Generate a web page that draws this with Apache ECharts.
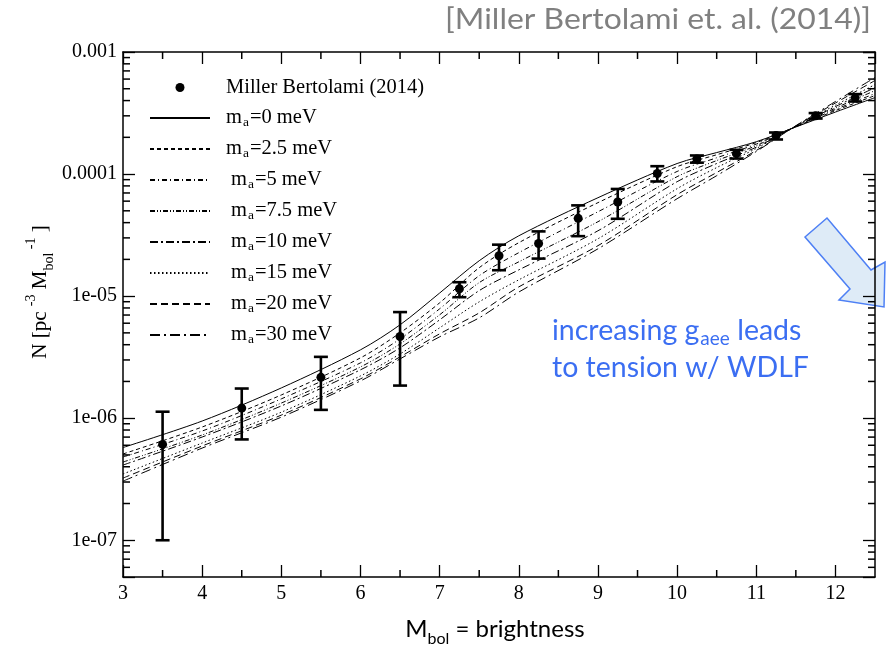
<!DOCTYPE html>
<html>
<head>
<meta charset="utf-8">
<script src="https://cdn.jsdelivr.net/npm/echarts@6/dist/echarts.min.js"></script>
<style>
  html, body { margin: 0; padding: 0; background: #fff; }
  #chart { width: 888px; height: 649px; }
</style>
</head>
<body>
<div id="chart"></div>
<script>
// model luminosity functions at these M_bol values
const curveX = [3, 4, 5, 6, 6.5, 7, 7.5, 8, 9, 10, 10.5, 11, 11.5, 12, 12.5];
const ma0  = [5.75e-7, 9.48e-7, 1.77e-6, 3.63e-6, 5.82e-6, 1.06e-5, 1.95e-5, 3.12e-5, 6.40e-5, 1.22e-4, 1.50e-4, 1.84e-4, 2.43e-4, 3.22e-4, 4.23e-4];
const ma25 = [5.09e-7, 8.47e-7, 1.55e-6, 3.12e-6, 5.00e-6, 8.81e-6, 1.71e-5, 2.74e-5, 5.83e-5, 1.15e-4, 1.44e-4, 1.81e-4, 2.44e-4, 3.31e-4, 4.40e-4];
const ma5  = [4.81e-7, 7.85e-7, 1.44e-6, 2.84e-6, 4.46e-6, 7.87e-6, 1.47e-5, 2.27e-5, 4.91e-5, 1.05e-4, 1.36e-4, 1.76e-4, 2.45e-4, 3.38e-4, 4.57e-4];
const ma75 = [4.37e-7, 7.28e-7, 1.33e-6, 2.63e-6, 4.06e-6, 7.03e-6, 1.29e-5, 1.91e-5, 4.07e-5, 9.52e-5, 1.29e-4, 1.71e-4, 2.45e-4, 3.47e-4, 4.83e-4];
const ma10 = [4.13e-7, 7.01e-7, 1.26e-6, 2.49e-6, 3.77e-6, 6.39e-6, 1.11e-5, 1.64e-5, 3.43e-5, 8.66e-5, 1.22e-4, 1.66e-4, 2.46e-4, 3.57e-4, 5.11e-4];
const ma15 = [3.49e-7, 6.26e-7, 1.12e-6, 2.22e-6, 3.36e-6, 5.50e-6, 8.98e-6, 1.36e-5, 2.95e-5, 7.59e-5, 1.13e-4, 1.62e-4, 2.47e-4, 3.67e-4, 5.41e-4];
const ma20 = [3.23e-7, 5.92e-7, 1.06e-6, 2.10e-6, 3.18e-6, 4.91e-6, 7.29e-6, 1.19e-5, 2.59e-5, 6.78e-5, 1.03e-4, 1.56e-4, 2.48e-4, 3.82e-4, 5.84e-4];
const ma30 = [3.05e-7, 5.69e-7, 1.02e-6, 2.02e-6, 3.06e-6, 4.64e-6, 6.64e-6, 1.08e-5, 2.44e-5, 6.28e-5, 9.70e-5, 1.53e-4, 2.49e-4, 3.93e-4, 6.18e-4];

const maLabels = ['0', '2.5', '5', '7.5', '10', '15', '20', '30'];
const maCurves = [ma0, ma25, ma5, ma75, ma10, ma15, ma20, ma30];
const maDash = ['solid', [4, 3], [5, 3, 1, 3], [5, 2, 1, 2, 1, 2], [8, 3, 2, 3], [1.5, 2.5], [7, 4], [10, 4, 2, 4]];

// Miller Bertolami (2014) data with error bars
const obsName = 'Miller Bertolami (2014)';
const obsX    = [3.5, 4.5, 5.5, 6.5, 7.25, 7.75, 8.25, 8.75, 9.25, 9.75, 10.25, 10.75, 11.25, 11.75, 12.25];
const obsN    = [6.1e-7, 1.21e-6, 2.16e-6, 4.67e-6, 1.15e-5, 2.14e-5, 2.70e-5, 4.34e-5, 5.9e-5, 1.01e-4, 1.33e-4, 1.47e-4, 2.07e-4, 3.0e-4, 4.21e-4];
const obsLow  = [1.0e-7, 6.7e-7, 1.17e-6, 1.85e-6, 9.8e-6, 1.63e-5, 2.03e-5, 3.1e-5, 4.3e-5, 8.7e-5, 1.24e-4, 1.34e-4, 1.92e-4, 2.85e-4, 3.93e-4];
const obsHigh = [1.13e-6, 1.75e-6, 3.18e-6, 7.4e-6, 1.30e-5, 2.64e-5, 3.39e-5, 5.54e-5, 7.55e-5, 1.16e-4, 1.42e-4, 1.58e-4, 2.19e-4, 3.16e-4, 4.52e-4];

// axis ticks
const yTickValues = [1e-7, 1e-6, 1e-5, 1e-4, 1e-3];
const yTickLabels = ['1e-07', '1e-06', '1e-05', '0.0001', '0.001'];
const xMinorTicks = [3.5, 4.5, 5.5, 6.5, 7.5, 8.5, 9.5, 10.5, 11.5];
const yMinorMant = [2, 3, 4, 5, 6, 7, 8, 9];

const xMin = 3, xMax = 12.5;
const yMin = 5e-8, yMax = 1e-3;
const serif = '"Liberation Serif", "Times New Roman", serif';
const sans = 'Lato, "Open Sans", sans-serif';

const yMinorTicks = [];
for (let e = -8; e <= -4; e++) {
  yMinorMant.forEach(function (k) {
    const v = k * Math.pow(10, e);
    if (v > yMin * 1.01 && v < yMax) yMinorTicks.push(v);
  });
}

const chart = echarts.init(document.getElementById('chart'));

function majorX(pos, labels) {
  return {
    type: 'value', position: pos, min: xMin, max: xMax, interval: 1,
    axisLine: { show: true, onZero: false, lineStyle: { color: '#000', width: 1.5 } },
    axisTick: { show: true, inside: true, length: 12, lineStyle: { color: '#000', width: 1.3 } },
    axisLabel: { show: labels, showMaxLabel: false, color: '#000', fontFamily: serif, fontSize: 20, margin: 7 },
    splitLine: { show: false }
  };
}
function majorY(pos, labels) {
  return {
    type: 'log', position: pos, min: yMin, max: yMax, logBase: 10,
    axisLine: { show: true, onZero: false, lineStyle: { color: '#000', width: 1.5 } },
    axisTick: { show: true, inside: true, length: 12, lineStyle: { color: '#000', width: 1.3 } },
    axisLabel: {
      show: labels, color: '#000', fontFamily: serif, fontSize: 20, margin: 6,
      formatter: function (v) {
        const lg = Math.log10(v);
        for (let i = 0; i < yTickValues.length; i++) {
          if (Math.abs(Math.log10(yTickValues[i]) - lg) < 1e-6) return yTickLabels[i];
        }
        return '';
      }
    },
    splitLine: { show: false }
  };
}

const lineSeries = maCurves.map(function (arr, i) {
  return {
    name: 'ma=' + maLabels[i] + ' meV',
    type: 'line',
    data: curveX.map(function (x, j) { return [x, arr[j]]; }),
    symbol: 'none', showSymbol: false,
    smooth: 0.3,
    itemStyle: { color: 'rgba(0,0,0,0)', opacity: 0 },
    lineStyle: { color: '#000', width: 1, type: maDash[i], opacity: 1 },
    z: 2
  };
});

const legendData = [{ name: obsName, icon: 'circle' }].concat(maLabels.map(function (l) { return { name: 'ma=' + l + ' meV' }; }));

chart.setOption({
  animation: false,
  backgroundColor: '#fff',
  grid: { left: 123, right: 13, top: 52, bottom: 72, containLabel: false },
  xAxis: [majorX('bottom', true), majorX('top', false)],
  yAxis: [majorY('left', true), majorY('right', false)],
  legend: {
    orient: 'vertical', left: 149, top: 77, padding: 0,
    itemWidth: 60, itemHeight: 9, itemGap: 5,
    data: legendData,
    formatter: function (name) {
      if (name === obsName) return '{t|' + name + '}';
      const i = maLabels.indexOf(name.slice(3, -4));
      return '{' + (i >= 2 ? 'm1' : 'm0') + '|m}{s|a}{m|=' + maLabels[i] + ' meV}';
    },
    textStyle: {
      color: '#000', fontFamily: serif, fontSize: 20.5,
      rich: {
        t: { fontFamily: serif, fontSize: 20.5, lineHeight: 25, padding: [0, 0, 0, 11], color: '#000' },
        m0: { fontFamily: serif, fontSize: 20.5, lineHeight: 22, padding: [0, 0, 0, 11], verticalAlign: 'top', color: '#000' },
        m1: { fontFamily: serif, fontSize: 20.5, lineHeight: 22, padding: [0, 0, 0, 16], verticalAlign: 'top', color: '#000' },
        m: { fontFamily: serif, fontSize: 20.5, lineHeight: 22, verticalAlign: 'top', color: '#000' },
        s: { fontFamily: serif, fontSize: 13.5, lineHeight: 13, padding: [12, 1, 0, 1], verticalAlign: 'bottom', color: '#000' }
      }
    },
    selectedMode: false
  },
  graphic: [
    {
      type: 'text', x: 871, y: 20, scaleX: 1.1,
      style: { text: '[Miller Bertolami et. al. (2014)]', font: '29px ' + sans, fill: '#808080', align: 'right', verticalAlign: 'middle' }
    },
    {
      type: 'text', left: 552, top: 311,
      style: {
        text: '{a|increasing g}{s|aee}{a| leads}',
        rich: {
          a: { fontFamily: sans, fontSize: 28.5, lineHeight: 32, verticalAlign: 'top', fill: '#3b6ef2' },
          s: { fontFamily: sans, fontSize: 19, lineHeight: 18, padding: [18, 0, 0, 1], verticalAlign: 'bottom', fill: '#3b6ef2' }
        }
      }
    },
    {
      type: 'text', left: 552, top: 353,
      style: { text: 'to tension w/ WDLF', font: '28.5px ' + sans, fill: '#3b6ef2' }
    },
    {
      type: 'polygon',
      shape: { points: [[805, 237], [827, 218], [871, 270], [885, 262], [884, 307], [839, 300], [850, 289]] },
      style: { fill: '#deebf7', stroke: '#4e80f5', lineWidth: 1.5 }
    },
    {
      type: 'text', x: 495, y: 632,
      style: {
        text: '{a|M}{s|bol}{a| = brightness}', align: 'center', verticalAlign: 'middle',
        rich: {
          a: { fontFamily: sans, fontSize: 24, lineHeight: 30, verticalAlign: 'top', fill: '#000' },
          s: { fontFamily: sans, fontSize: 16, lineHeight: 16, padding: [15, 0, 0, 0], verticalAlign: 'bottom', fill: '#000' }
        }
      }
    },
    {
      type: 'text', x: 40, y: 292, rotation: Math.PI / 2,
      style: {
        text: '{a|N [pc }{p|-3}{a| M}{b|bol}{p| -1}{a| ]}', align: 'center', verticalAlign: 'middle',
        rich: {
          a: { fontFamily: serif, fontSize: 21, lineHeight: 32, fill: '#000' },
          p: { fontFamily: serif, fontSize: 14, lineHeight: 14, verticalAlign: 'top', fill: '#000' },
          b: { fontFamily: serif, fontSize: 14, lineHeight: 14, verticalAlign: 'bottom', fill: '#000' }
        }
      }
    }
  ],
  series: lineSeries.concat([
    {
      name: 'errorbars',
      type: 'custom',
      encode: { x: 0, y: [1, 2] },
      data: obsX.map(function (x, i) { return [x, obsLow[i], obsHigh[i]]; }),
      renderItem: function (params, api) {
        const x = api.value(0);
        const lo = api.coord([x, api.value(1)]);
        const hi = api.coord([x, api.value(2)]);
        const w = 7;
        const st = { stroke: '#000', lineWidth: 2.6 };
        const kids = [
          { type: 'line', shape: { x1: lo[0], y1: lo[1], x2: hi[0], y2: hi[1] }, style: st },
          { type: 'line', shape: { x1: lo[0] - w, y1: lo[1], x2: lo[0] + w, y2: lo[1] }, style: st },
          { type: 'line', shape: { x1: hi[0] - w, y1: hi[1], x2: hi[0] + w, y2: hi[1] }, style: st }
        ];
        // minor ticks on all four frame edges, drawn once with the first item
        if (params.dataIndex === 0) {
          const bl = api.coord([xMin, yMin]);
          const tr = api.coord([xMax, yMax]);
          const tk = { stroke: '#000', lineWidth: 1.5 };
          const L = 7;
          yMinorTicks.forEach(function (v) {
            const py = api.coord([xMin, v])[1];
            kids.push({ type: 'line', shape: { x1: bl[0], y1: py, x2: bl[0] + L, y2: py }, style: tk });
            kids.push({ type: 'line', shape: { x1: tr[0], y1: py, x2: tr[0] - L, y2: py }, style: tk });
          });
          xMinorTicks.forEach(function (v) {
            const px = api.coord([v, yMin])[0];
            kids.push({ type: 'line', shape: { x1: px, y1: bl[1], x2: px, y2: bl[1] - L }, style: tk });
            kids.push({ type: 'line', shape: { x1: px, y1: tr[1], x2: px, y2: tr[1] + L }, style: tk });
          });
        }
        return { type: 'group', children: kids };
      },
      silent: true,
      clip: false,
      z: 4
    },
    {
      name: obsName,
      type: 'scatter',
      data: obsX.map(function (x, i) { return [x, obsN[i]]; }),
      symbol: 'circle', symbolSize: 9,
      itemStyle: { color: '#000', opacity: 1 },
      z: 5
    }
  ])
});
</script>
</body>
</html>
